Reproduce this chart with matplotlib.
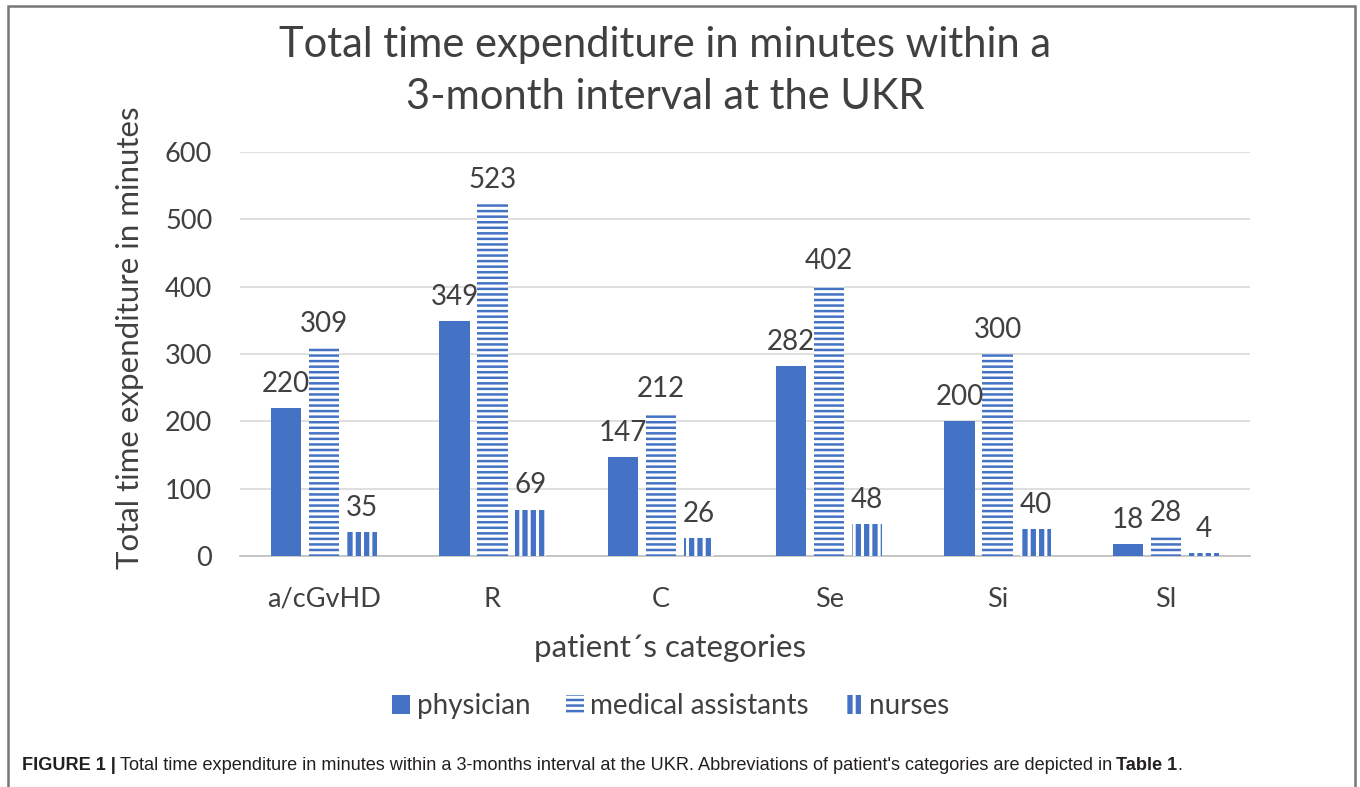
import matplotlib
matplotlib.use("Agg")
import matplotlib.pyplot as plt
import numpy as np
from matplotlib.patches import Rectangle, Patch

categories = ["a/cGvHD", "R", "C", "Se", "Si", "Sl"]
physician = [220, 349, 147, 282, 200, 18]
medical_assistants = [309, 523, 212, 402, 300, 28]
nurses = [35, 69, 26, 48, 40, 4]
series_names = ["physician", "medical assistants", "nurses"]
yticks = [0, 100, 200, 300, 400, 500, 600]

BLUE = "#4472C4"
TXT = "#404040"
FONT = ["Lato", "DejaVu Sans"]
CAPFONT = ["Liberation Sans", "DejaVu Sans"]

plt.rcParams["font.family"] = FONT
plt.rcParams["hatch.color"] = "white"
plt.rcParams["hatch.linewidth"] = 2.2

fig = plt.figure(figsize=(13.6, 7.87), dpi=100)
ax = fig.add_axes([240/1360, 1-556/787, 1010/1360, (556-152)/787])

x = np.arange(len(categories))
w = 0.18
off = 0.225
b1 = ax.bar(x - off, physician, w, color=BLUE, linewidth=0, zorder=3)
b2 = ax.bar(x, medical_assistants, w, color=BLUE, linewidth=0, hatch="---", zorder=3)
b3 = ax.bar(x + off, nurses, w, color=BLUE, linewidth=0, hatch="||", zorder=3)

for bars, vals in [(b1, physician), (b2, medical_assistants), (b3, nurses)]:
    for r, v in zip(bars, vals):
        ax.annotate(str(v), (r.get_x() + r.get_width()/2, v), xytext=(0, 8),
                    textcoords="offset points", ha="center", va="bottom",
                    fontsize=20, color=TXT)

ax.set_xlim(-0.5, len(categories) - 0.5)
ax.set_ylim(0, 600)
ax.set_yticks(yticks)
ax.set_yticklabels([str(t) for t in yticks])
ax.set_xticks(x)
ax.set_xticklabels(categories)
ax.tick_params(axis="both", length=0, labelsize=19.5, labelcolor=TXT)
ax.tick_params(axis="y", pad=20)
ax.tick_params(axis="x", pad=22)
ax.grid(axis="y", color="#d9d9d9", linewidth=1.2, zorder=0)
for s in ["top", "right", "left"]:
    ax.spines[s].set_visible(False)
ax.spines["bottom"].set_color("#bfbfbf")
ax.spines["bottom"].set_linewidth(1.2)

ax.set_ylabel("Total time expenditure in minutes", fontsize=22.5, color=TXT)
ax.yaxis.set_label_coords(-0.095, 0.54)
fig.text(670/1360, 1-648/787, "patient´s categories", fontsize=22.5, color=TXT,
         ha="center", va="center")

fig.text(665/1360, 1-45/787, "Total time expenditure in minutes within a",
         fontsize=30, color=TXT, ha="center", va="center")
fig.text(665/1360, 1-97/787, "3-month interval at the UKR",
         fontsize=30, color=TXT, ha="center", va="center")

handles = [Patch(facecolor=BLUE, linewidth=0),
           Patch(facecolor=BLUE, linewidth=0, hatch="---"),
           Patch(facecolor=BLUE, linewidth=0, hatch="||")]
leg = fig.legend(handles, series_names, loc="center", bbox_to_anchor=(671/1360, 1-706/787),
                 ncol=3, frameon=False, fontsize=20, handlelength=0.65, handleheight=0.65,
                 handletextpad=0.22, columnspacing=1.3)
for t in leg.get_texts():
    t.set_color(TXT)

# caption
CY = 1 - 765/787
cs = 13.1
fig.text(22/1360, CY, "FIGURE 1 |", fontsize=cs, fontweight="bold",
         family=CAPFONT, ha="left", va="center", color="#231f20")
fig.canvas.draw()
r0 = fig.texts[-1].get_window_extent()
fig.text((r0.x1 + 4)/1360, CY,
         "Total time expenditure in minutes within a 3-months interval at the UKR. "
         "Abbreviations of patient's categories are depicted in",
         fontsize=cs, family=CAPFONT, ha="left", va="center", color="#231f20")
fig.canvas.draw()
r = fig.texts[-1].get_window_extent()
fig.text((r.x1 + 4)/1360, CY, "Table 1", fontsize=cs, fontweight="bold",
         family=CAPFONT, ha="left", va="center", color="#231f20")
fig.canvas.draw()
r2 = fig.texts[-1].get_window_extent()
fig.text((r2.x1)/1360, CY, ".", fontsize=cs,
         family=CAPFONT, ha="left", va="center", color="#231f20")

# border
fig.add_artist(Rectangle((8/1360, -0.01), (1355-8)/1360, 1.01 - 6/787, transform=fig.transFigure,
                         fill=False, edgecolor="#777777", linewidth=1.8))

fig.savefig("out.png", dpi=100)
